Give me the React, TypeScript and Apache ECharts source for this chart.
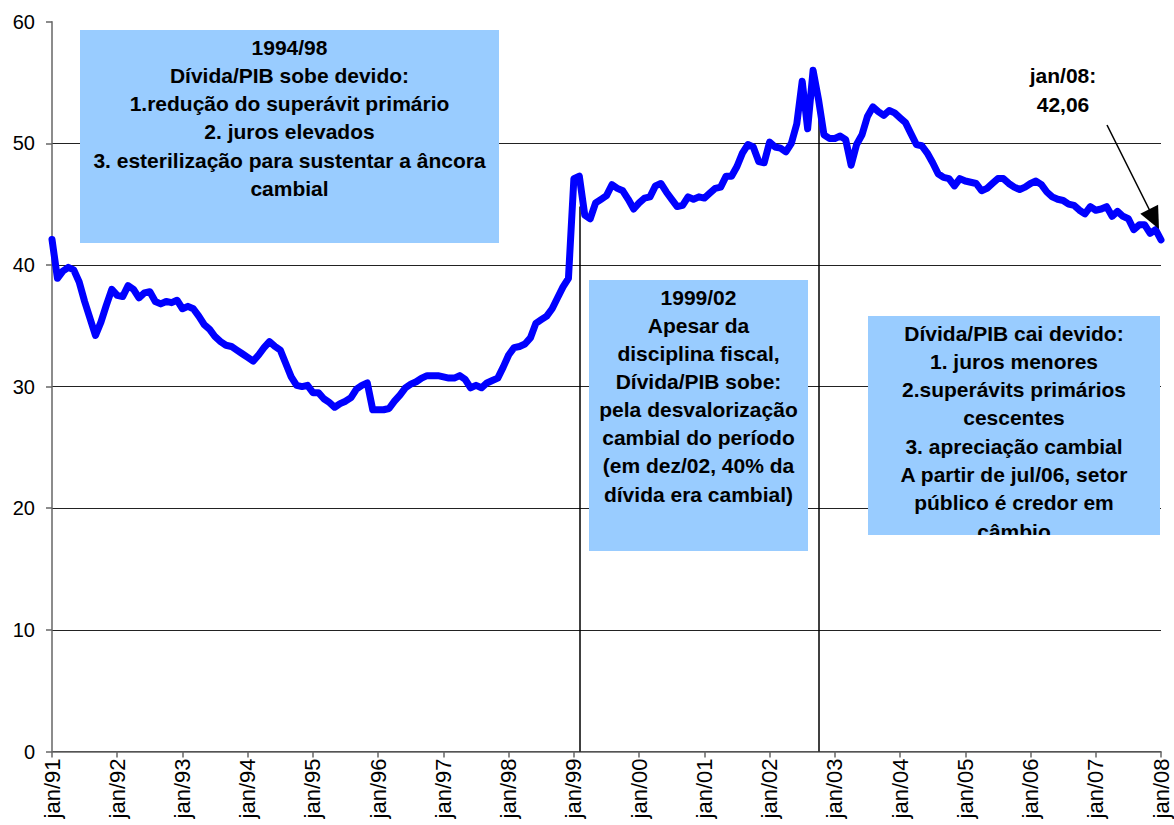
import React, { useEffect, useRef } from "react";
import * as echarts from "echarts";

// Month labels (Portuguese abbreviations) and years
const monthNames = ["jan", "fev", "mar", "abr", "mai", "jun", "jul", "ago", "set", "out", "nov", "dez"];
const yearLabels = ["91", "92", "93", "94", "95", "96", "97", "98", "99", "00", "01", "02", "03", "04", "05", "06", "07", "08"];

// Dívida líquida do setor público / PIB (%), monthly
const v1991 = [42.1, 38.9, 39.5, 39.8, 39.6, 38.6, 37.0, 35.6, 34.2, 35.3, 36.7, 38.0];
const v1992 = [37.5, 37.4, 38.3, 38.0, 37.3, 37.7, 37.8, 37.0, 36.8, 37.0, 36.9, 37.1];
const v1993 = [36.4, 36.6, 36.4, 35.8, 35.1, 34.7, 34.1, 33.7, 33.4, 33.3, 33.0, 32.7];
const v1994 = [32.4, 32.1, 32.6, 33.2, 33.7, 33.3, 33.0, 31.9, 30.8, 30.1, 30.0, 30.1];
const v1995 = [29.5, 29.5, 29.0, 28.7, 28.3, 28.6, 28.8, 29.1, 29.8, 30.1, 30.3, 28.1];
const v1996 = [28.1, 28.1, 28.2, 28.8, 29.3, 29.9, 30.2, 30.4, 30.7, 30.9, 30.9, 30.9];
const v1997 = [30.8, 30.7, 30.7, 30.9, 30.6, 29.9, 30.1, 29.9, 30.3, 30.5, 30.7, 31.6];
const v1998 = [32.6, 33.2, 33.3, 33.5, 34.0, 35.2, 35.5, 35.8, 36.4, 37.3, 38.2, 38.9];
const v1999 = [47.1, 47.3, 44.1, 43.8, 45.1, 45.4, 45.7, 46.6, 46.3, 46.1, 45.4, 44.6];
const v2000 = [45.1, 45.5, 45.6, 46.5, 46.7, 46.0, 45.4, 44.8, 44.9, 45.6, 45.4, 45.6];
const v2001 = [45.5, 45.9, 46.3, 46.4, 47.3, 47.3, 48.1, 49.2, 49.9, 49.7, 48.5, 48.4];
const v2002 = [50.1, 49.7, 49.6, 49.3, 50.0, 51.6, 55.1, 51.2, 56.0, 53.6, 50.7, 50.4];
const v2003 = [50.4, 50.6, 50.3, 48.2, 49.9, 50.7, 52.2, 53.0, 52.6, 52.3, 52.7, 52.5];
const v2004 = [52.1, 51.7, 50.8, 49.9, 49.8, 49.2, 48.4, 47.5, 47.2, 47.1, 46.5, 47.1];
const v2005 = [46.9, 46.8, 46.7, 46.1, 46.3, 46.7, 47.1, 47.1, 46.7, 46.4, 46.2, 46.4];
const v2006 = [46.7, 46.9, 46.6, 46.0, 45.6, 45.4, 45.3, 45.0, 44.9, 44.5, 44.2, 44.8];
const v2007 = [44.5, 44.6, 44.8, 44.0, 44.4, 44.0, 43.8, 42.9, 43.3, 43.3, 42.6, 42.9];
const v2008 = [42.06];

const yTicks = [0, 10, 20, 30, 40, 50, 60];

// Vertical event markers: [category, top value]
const eventLines: [string, number][] = [
  ["fev/99", 44.8],
  ["out/02", 53.3],
];

const box1Lines = [
  "1994/98",
  "Dívida/PIB sobe devido:",
  "1.redução do superávit primário",
  "2. juros elevados",
  "3. esterilização para sustentar a âncora",
  "cambial",
];
const box2Lines = [
  "1999/02",
  "Apesar da",
  "disciplina fiscal,",
  "Dívida/PIB sobe:",
  "pela desvalorização",
  "cambial do período",
  "(em dez/02, 40% da",
  "dívida era cambial)",
];
const box3Lines = [
  "Dívida/PIB cai devido:",
  "1. juros menores",
  "2.superávits primários",
  "cescentes",
  "3. apreciação cambial",
  "A partir de jul/06, setor",
  "público é credor em",
  "câmbio",
];
const lastLabel = ["jan/08:", "42,06"];

const values = [
  ...v1991, ...v1992, ...v1993, ...v1994, ...v1995, ...v1996, ...v1997, ...v1998, ...v1999,
  ...v2000, ...v2001, ...v2002, ...v2003, ...v2004, ...v2005, ...v2006, ...v2007, ...v2008,
];
const categories: string[] = [];
yearLabels.forEach((y) => monthNames.forEach((m) => categories.push(m + "/" + y)));
categories.length = values.length;

const FONT = "'Liberation Sans', Arial, sans-serif";

function textLines(lines: string[], cx: number, top: number, step: number) {
  return lines.map((t, k) => ({
    type: "text",
    x: cx,
    y: top + k * step,
    z: 20,
    style: {
      text: t,
      fill: "#000",
      font: "bold 21px " + FONT,
      align: "center",
      verticalAlign: "middle",
      textAlign: "center",
      textVerticalAlign: "middle",
    },
  }));
}

export default function App() {
  const ref = useRef<HTMLDivElement>(null);
  useEffect(() => {
    if (!ref.current) return;
    const chart = echarts.init(ref.current, undefined, { renderer: "svg" });
    const gridColors = yTicks.map((t, k) => (k === yTicks.length - 1 ? "rgba(0,0,0,0)" : "#222"));
    chart.setOption({
      animation: false,
      backgroundColor: "#fff",
      grid: { left: 52, top: 21.7, width: 1109, height: 729.8, containLabel: false },
      xAxis: {
        type: "category",
        data: categories,
        boundaryGap: false,
        axisLine: { show: true, lineStyle: { color: "#666", width: 1.5 } },
        axisTick: { show: true, interval: 11, length: 6, lineStyle: { color: "#666", width: 1.5 } },
        axisLabel: {
          interval: 11,
          rotate: 90,
          fontSize: 22,
          fontFamily: FONT,
          color: "#000",
          margin: 7,
        },
        splitLine: { show: false },
      },
      yAxis: {
        type: "value",
        min: 0,
        max: 60,
        interval: 10,
        axisLine: { show: true, lineStyle: { color: "#666", width: 1.5 } },
        axisTick: { show: true, length: 6, lineStyle: { color: "#666", width: 1.5 } },
        axisLabel: { fontSize: 20, fontFamily: FONT, color: "#000", margin: 17 },
        splitLine: { show: true, lineStyle: { color: gridColors, width: 1 } },
      },
      series: [
        {
          type: "line",
          data: values,
          showSymbol: false,
          symbol: "none",
          lineStyle: { color: "#0000FF", width: 7, join: "round", cap: "round" },
          z: 5,
          markLine: {
            silent: true,
            symbol: ["none", "none"],
            label: { show: false },
            lineStyle: { color: "#000", width: 1.5, type: "solid" },
            data: eventLines.map(([c, top]) => [{ coord: [c, 0] }, { coord: [c, top] }]),
          },
        },
      ],
      graphic: [
        { type: "rect", z: 10, shape: { x: 80, y: 30, width: 419, height: 213 }, style: { fill: "#99CCFF" } },
        ...textLines(box1Lines, 289.5, 47, 28.3),
        { type: "rect", z: 10, shape: { x: 589, y: 280, width: 219, height: 271 }, style: { fill: "#99CCFF" } },
        ...textLines(box2Lines, 698.5, 297.3, 28.1),
        { type: "rect", z: 10, shape: { x: 868, y: 316, width: 292, height: 219 }, style: { fill: "#99CCFF" } },
        ...textLines(box3Lines, 1014, 333, 28.3),
        { type: "rect", z: 30, shape: { x: 864, y: 535, width: 300, height: 22 }, style: { fill: "#fff" } },
        ...textLines(lastLabel, 1063, 75, 29),
        {
          type: "line",
          z: 20,
          shape: { x1: 1107, y1: 125, x2: 1150, y2: 211 },
          style: { stroke: "#000", lineWidth: 1.5 },
        },
        {
          type: "polygon",
          z: 20,
          shape: { points: [[1159, 229], [1140.3, 213.8], [1158.1, 204.8]] },
          style: { fill: "#000" },
        },
      ],
    });
    return () => chart.dispose();
  }, []);
  return (
    <div
      ref={ref}
      style={{ position: "absolute", left: 0, top: 0, width: 1174, height: 825 }}
    />
  );
}
